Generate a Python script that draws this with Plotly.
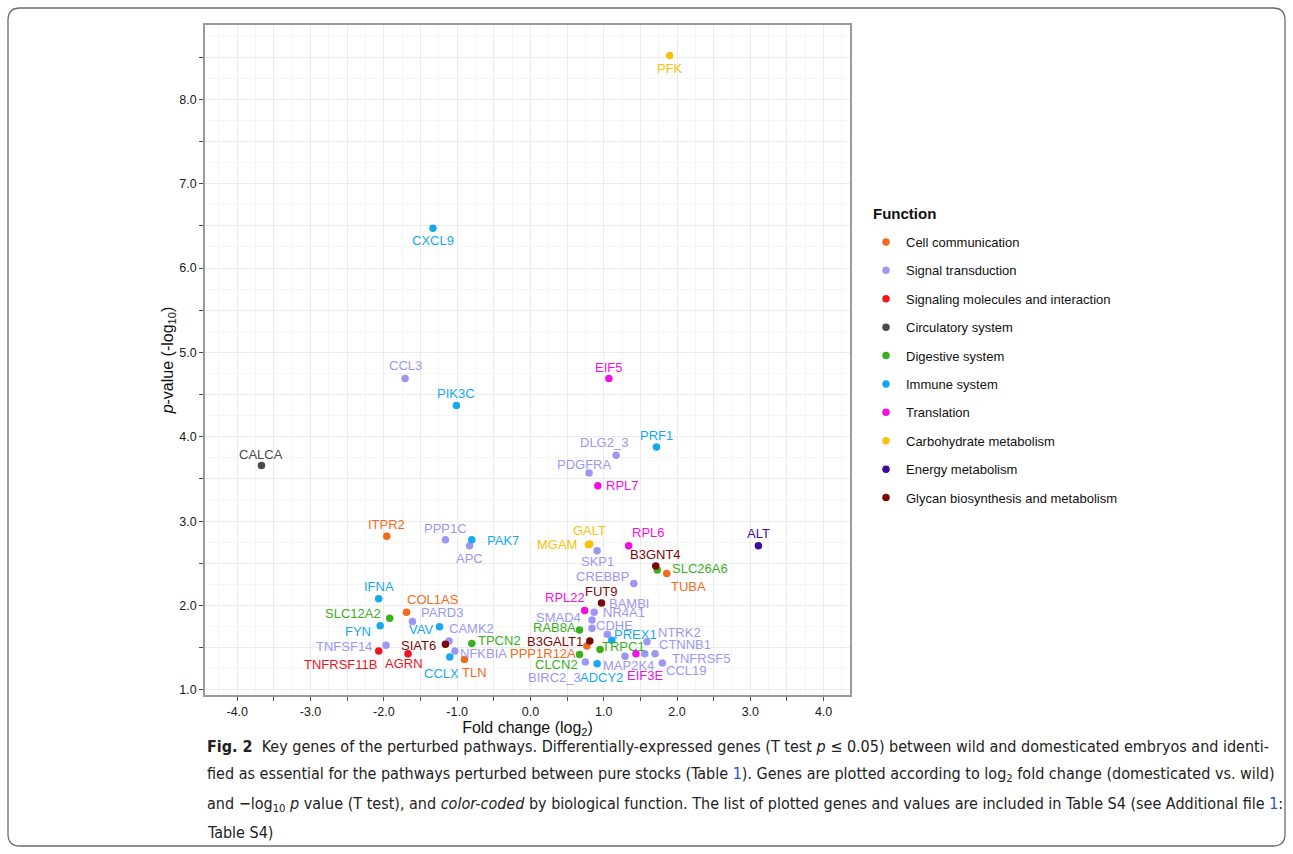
import plotly.graph_objects as go

# ---- data: gene, log2 fold change, -log10 p-value, biological function ----
genes = ["PFK", "CXCL9", "CCL3", "EIF5", "PIK3C", "CALCA", "PRF1", "DLG2_3", "PDGFRA", "RPL7",
         "ALT", "RPL6", "B3GNT4", "SLC26A6", "TUBA", "GALT", "MGAM", "SKP1", "CREBBP", "FUT9",
         "RPL22", "BAMBI", "NR4A1", "SMAD4", "CDHE", "RAB8A", "PREX1", "NTRK2", "B3GALT1", "TRPC1",
         "CTNNB1", "PPP1R12A", "TNFRSF5", "CLCN2", "MAP2K4", "CCL19", "EIF3E", "BIRC2_3", "ADCY2",
         "ITPR2", "PPP1C", "PAK7", "APC", "IFNA", "COL1AS", "SLC12A2", "PARD3", "FYN", "VAV",
         "CAMK2", "TNFSF14", "SIAT6", "TPCN2", "NFKBIA", "TNFRSF11B", "AGRN", "CCLX", "TLN"]
log2_fc = [1.90, -1.33, -1.71, 1.07, -1.01, -3.67, 1.72, 1.17, 0.80, 0.92,
           3.11, 1.34, 1.71, 1.73, 1.86, 0.81, 0.79, 0.91, 1.41, 0.97,
           0.74, 0.87, 0.84, 0.84, 1.05, 0.67, 1.11, 1.59, 0.81, 0.95,
           1.56, 0.77, 1.70, 0.67, 1.29, 1.80, 1.44, 0.75, 0.91,
           -1.96, -1.16, -0.80, -0.83, -2.07, -1.69, -1.92, -1.61, -2.05, -1.24,
           -1.11, -1.97, -1.16, -0.80, -1.03, -2.07, -1.67, -1.10, -0.90]
neg_log10_p = [8.52, 6.47, 4.69, 4.69, 4.37, 3.66, 3.88, 3.78, 3.57, 3.42,
               2.71, 2.71, 2.47, 2.42, 2.38, 2.73, 2.72, 2.65, 2.26, 2.03,
               1.94, 1.92, 1.83, 1.73, 1.66, 1.71, 1.59, 1.57, 1.58, 1.48,
               1.43, 1.52, 1.43, 1.42, 1.40, 1.32, 1.43, 1.33, 1.31,
               2.82, 2.78, 2.78, 2.71, 2.08, 1.92, 1.85, 1.81, 1.76, 1.75,
               1.58, 1.53, 1.54, 1.55, 1.46, 1.46, 1.43, 1.39, 1.36]
function = ["Carbohydrate metabolism", "Immune system", "Signal transduction", "Translation",
            "Immune system", "Circulatory system", "Immune system", "Signal transduction",
            "Signal transduction", "Translation",
            "Energy metabolism", "Translation", "Glycan biosynthesis and metabolism", "Digestive system",
            "Cell communication", "Carbohydrate metabolism", "Carbohydrate metabolism",
            "Signal transduction", "Signal transduction", "Glycan biosynthesis and metabolism",
            "Translation", "Signal transduction", "Signal transduction", "Signal transduction",
            "Signal transduction", "Digestive system", "Immune system", "Signal transduction",
            "Glycan biosynthesis and metabolism", "Digestive system",
            "Signal transduction", "Cell communication", "Signal transduction", "Digestive system",
            "Signal transduction", "Signal transduction", "Translation", "Signal transduction",
            "Immune system",
            "Cell communication", "Signal transduction", "Immune system", "Signal transduction",
            "Immune system", "Cell communication", "Digestive system", "Signal transduction",
            "Immune system", "Immune system",
            "Signal transduction", "Signal transduction", "Glycan biosynthesis and metabolism",
            "Digestive system", "Signal transduction", "Signaling molecules and interaction",
            "Signaling molecules and interaction", "Immune system", "Cell communication"]

categories = ["Cell communication", "Signal transduction", "Signaling molecules and interaction",
              "Circulatory system", "Digestive system", "Immune system", "Translation",
              "Carbohydrate metabolism", "Energy metabolism", "Glycan biosynthesis and metabolism"]

# ---- styling ----
palette = {
    "Cell communication": "#F26A1B",
    "Signal transduction": "#9C98F2",
    "Signaling molecules and interaction": "#F0141E",
    "Circulatory system": "#4A4A4A",
    "Digestive system": "#38B01C",
    "Immune system": "#16A9EF",
    "Translation": "#F20FE4",
    "Carbohydrate metabolism": "#F7C20A",
    "Energy metabolism": "#3B0D9B",
    "Glycan biosynthesis and metabolism": "#7A0808",
}

# label offsets from their point, in screen pixels (dx right, dy down)
label_offset = {
    "PFK": (0, 13), "CXCL9": (0, 12), "CCL3": (0, -13), "EIF5": (0, -11), "PIK3C": (0, -12),
    "CALCA": (0, -11), "PRF1": (0, -11), "DLG2_3": (-12, -13), "PDGFRA": (-5, -9), "RPL7": (25, 0),
    "ALT": (0, -12), "RPL6": (20, -13), "B3GNT4": (0, -11), "SLC26A6": (43, -2), "TUBA": (22, 13),
    "GALT": (0, -13), "MGAM": (-31, 0), "SKP1": (0, 11), "CREBBP": (-31, -7), "FUT9": (0, -12),
    "RPL22": (-20, -13), "BAMBI": (35, -9), "NR4A1": (32, -7), "SMAD4": (-34, -11), "CDHE": (7, -9),
    "RAB8A": (-25, -3), "PREX1": (24, -6), "NTRK2": (33, -9), "B3GALT1": (-35, 1), "TRPC1": (23, -3),
    "CTNNB1": (40, -9), "PPP1R12A": (-44, 7), "TNFRSF5": (46, 5), "CLCN2": (-23, 10),
    "MAP2K4": (4, 9), "CCL19": (24, 8), "EIF3E": (9, 22), "BIRC2_3": (-31, 15), "ADCY2": (4, 14),
    "ITPR2": (0, -12), "PPP1C": (0, -11), "PAK7": (31, 1), "APC": (0, 13), "IFNA": (0, -12),
    "COL1AS": (26, -13), "SLC12A2": (-37, -5), "PARD3": (30, -9), "FYN": (-22, 6), "VAV": (-19, 3),
    "CAMK2": (22, -12), "TNFSF14": (-42, 1), "SIAT6": (-27, 1), "TPCN2": (28, -3),
    "NFKBIA": (29, 2), "TNFRSF11B": (-38, 13), "AGRN": (-4, 10), "CCLX": (-8, 16), "TLN": (10, 13),
}

W, H = 1293, 854
PL, PR, PT, PB = 205, 850, 25, 695   # plotting panel edges in pixels


def px(xp):
    return (xp - PL) / (PR - PL)


def py(yp):
    return (PB - yp) / (PB - PT)


FONT = "Liberation Sans, Arial, sans-serif"

fig = go.Figure()

for cat in categories:
    idx = [i for i, f in enumerate(function) if f == cat]
    fig.add_trace(go.Scatter(
        x=[log2_fc[i] for i in idx],
        y=[neg_log10_p[i] for i in idx],
        mode="markers",
        name=cat,
        legendgroup=cat,
        marker=dict(color=palette[cat], size=7.5, line=dict(width=0)),
        text=[genes[i] for i in idx],
        hovertemplate="%{text}<br>log2 FC=%{x}<br>-log10 p=%{y}<extra></extra>",
    ))

# gene labels
for g, xv, yv, f in zip(genes, log2_fc, neg_log10_p, function):
    dx, dy = label_offset[g]
    fig.add_annotation(x=xv, y=yv, xref="x", yref="y", text=g, showarrow=False,
                       xshift=dx, yshift=-dy,
                       font=dict(family=FONT, size=13, color=palette[f]))

x_ticks = [v / 2 for v in range(-8, 9)]
y_ticks = [v / 2 for v in range(2, 18)]
x_minor = [v / 4 for v in range(-17, 18) if v % 2]
y_minor = [v / 4 for v in range(3, 36) if v % 2]

axis_common = dict(
    showline=True, linecolor="#9a9a9a", linewidth=1.5, mirror=True,
    ticks="outside", ticklen=4, tickcolor="#4d4d4d", tickwidth=1,
    showgrid=True, gridcolor="#ebebeb", gridwidth=1,
    zeroline=False,
    tickfont=dict(family=FONT, size=12.5, color="#1a1a1a"),
)

fig.update_xaxes(
    range=[-4.44, 4.36], tickmode="array", tickvals=x_ticks,
    ticktext=[f"{v:.1f}" if v == int(v) else " " for v in x_ticks],
    minor=dict(tickmode="array", tickvals=x_minor, showgrid=True, gridcolor="#f5f5f5", ticks=""),
    title=dict(text="Fold change (log<sub>2</sub>)", font=dict(family=FONT, size=16, color="#111111"),
               standoff=0),
    **axis_common,
)
fig.update_yaxes(
    range=[0.94, 8.88], tickmode="array", tickvals=y_ticks,
    ticktext=[f"{v:.1f}" if v == int(v) else " " for v in y_ticks],
    minor=dict(tickmode="array", tickvals=y_minor, showgrid=True, gridcolor="#f5f5f5", ticks=""),
    title=dict(text="<i>p</i>-value (-log<sub>10</sub>)", font=dict(family=FONT, size=16, color="#111111"),
               standoff=2),
    **axis_common,
)

# outer rounded frame around the figure and caption
fx0, fx1, fy0, fy1, r = 8, 1285, 8, 846, 12
frame_path = (
    f"M {px(fx0 + r)},{py(fy0)} L {px(fx1 - r)},{py(fy0)} "
    f"Q {px(fx1)},{py(fy0)} {px(fx1)},{py(fy0 + r)} "
    f"L {px(fx1)},{py(fy1 - r)} Q {px(fx1)},{py(fy1)} {px(fx1 - r)},{py(fy1)} "
    f"L {px(fx0 + r)},{py(fy1)} Q {px(fx0)},{py(fy1)} {px(fx0)},{py(fy1 - r)} "
    f"L {px(fx0)},{py(fy0 + r)} Q {px(fx0)},{py(fy0)} {px(fx0 + r)},{py(fy0)} Z"
)
fig.add_shape(type="path", path=frame_path, xref="paper", yref="paper",
              line=dict(color="#6b6b6b", width=1.3), fillcolor="rgba(0,0,0,0)", layer="below")

# figure caption
CAP_FONT = "Liberation Sans Narrow, DejaVu Sans Condensed, Liberation Sans, sans-serif"
caption_lines = [
    "<b>Fig. 2</b>  Key genes of the perturbed pathways. Differentially-expressed genes (T test <i>p</i> ≤ 0.05) "
    "between wild and domesticated embryos and identi-",
    "fied as essential for the pathways perturbed between pure stocks (Table <span style='color:#2b4fd6'>1</span>). "
    "Genes are plotted according to log<sub>2</sub> fold change (domesticated vs. wild)",
    "and −log<sub>10</sub> <i>p</i> value (T test), and <i>color-coded</i> by biological function. "
    "The list of plotted genes and values are included in Table S4 (see Additional file "
    "<span style='color:#2b4fd6'>1</span>:",
    "Table S4)",
]
caption_y = [747, 775, 804, 832]
for line, yc in zip(caption_lines, caption_y):
    fig.add_annotation(x=px(205), y=py(yc), xref="paper", yref="paper", text=line,
                       showarrow=False, xanchor="left", yanchor="middle",
                       font=dict(family=CAP_FONT, size=16, color="#222222"))

# legend heading
fig.add_annotation(x=px(871), y=py(214), xref="paper", yref="paper", text="<b>Function</b>",
                   showarrow=False, xanchor="left", yanchor="middle",
                   font=dict(family=FONT, size=15, color="#111111"))

fig.update_layout(
    width=W, height=H,
    margin=dict(l=PL, r=W - PR, t=PT, b=H - PB),
    plot_bgcolor="white", paper_bgcolor="white",
    showlegend=True,
    legend=dict(
        font=dict(family=FONT, size=13, color="#111111"),
        x=px(866), xanchor="left", y=py(227), yanchor="top",
        tracegroupgap=8.5, itemwidth=30, bgcolor="rgba(0,0,0,0)",
    ),
)

fig.write_html("out.html")
